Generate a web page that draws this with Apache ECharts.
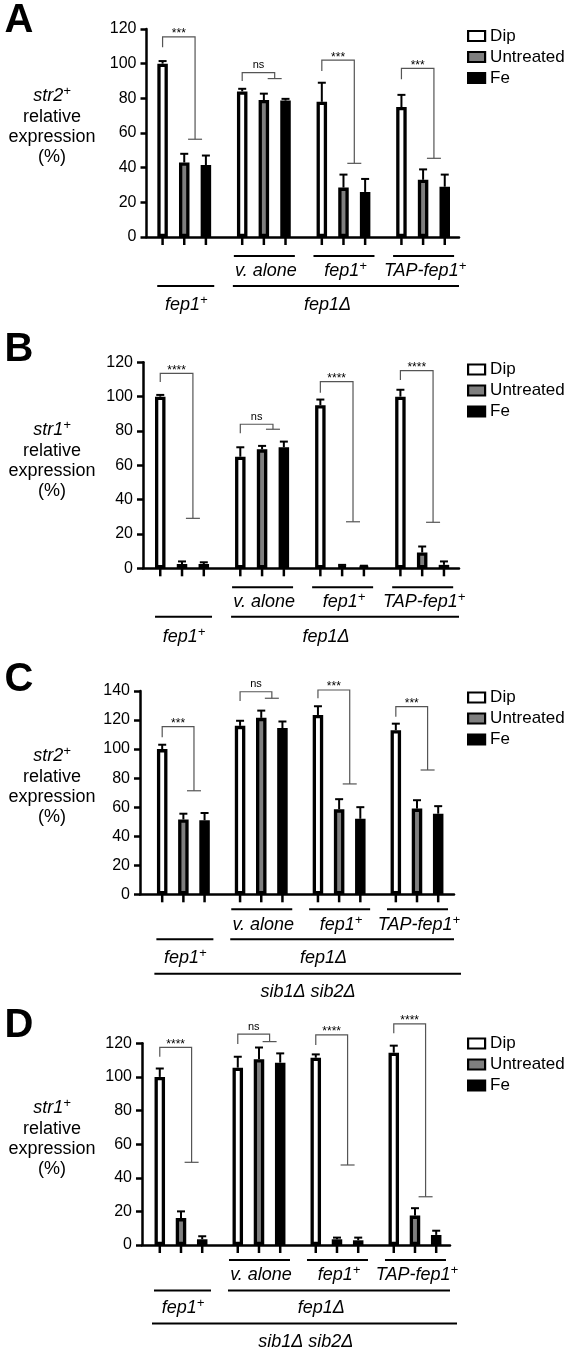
<!DOCTYPE html>
<html>
<head>
<meta charset="utf-8">
<script src="https://cdn.jsdelivr.net/npm/echarts@6/dist/echarts.min.js"></script>
<style>
  html, body { margin: 0; padding: 0; background: #fff; }
  #main { width: 567px; height: 1353px; }
</style>
</head>
<body>
<div id="main"></div>
<script>
// groups: fep1+, then fep1Δ carrying v. alone / fep1+ / TAP-fep1+
var treatments = ['Dip', 'Untreated', 'Fe']
var groupNames = ['fep1⁺', 'v. alone', 'fep1⁺', 'TAP-fep1⁺']
var strainNames = ['fep1⁺', 'fep1Δ']
var backgroundName = 'sib1Δ sib2Δ'

// A : str2+
var dipA = [100, 84, 78, 75]
var dipErrA = [1.5, 1.5, 11, 7]
var untA = [43, 79, 28.5, 33]
var untErrA = [5, 3.7, 7.5, 6]
var feA = [41.5, 78.7, 26, 29]
var feErrA = [5.5, 1, 7.5, 7]
var sigA = ['***', 'ns', '***', '***']
var brTopA = [115.5, 94.8, 102, 97.3]
var brLeftA = [109.5, 90, 95.8, 91]
var brRightA = [56.4, 91.4, 42.5, 45.4]

// B : str1+
var dipB = [100, 65, 95, 100]
var dipErrB = [1, 5.5, 3.3, 4]
var untB = [2.5, 69.3, 1.5, 9.2]
var untErrB = [1.5, 2, 0.5, 3.5]
var feB = [2.5, 70.5, 1, 2]
var feErrB = [1, 3.3, 0.5, 2]
var sigB = ['****', 'ns', '****', '****']
var brTopB = [113.6, 83.9, 108.7, 115.1]
var brLeftB = [108.5, 78.6, 102.3, 109.7]
var brRightB = [29.1, 81, 27.1, 26.8]

// C : str2+ in sib1Δ sib2Δ
var dipC = [100, 116, 123.5, 113]
var dipErrC = [3, 3.5, 6, 4.5]
var untC = [51.5, 121.5, 58.5, 59]
var untErrC = [4, 5, 7, 5.8]
var feC = [51, 114.5, 52, 55.5]
var feErrC = [5, 4.5, 8, 5.2]
var sigC = ['***', 'ns', '***', '***']
var brTopC = [115.4, 139.5, 140.7, 129.2]
var brLeftC = [108.1, 133.1, 135, 122.3]
var brRightC = [71.3, 135, 76, 85.6]

// D : str1+ in sib1Δ sib2Δ
var dipD = [100, 105.5, 111.4, 114.4]
var dipErrD = [5, 6.5, 2, 4.2]
var untD = [16, 110.5, 3.4, 17.5]
var untErrD = [4, 7, 1, 4.4]
var feD = [3.4, 108.5, 2.8, 6]
var feErrD = [1.8, 5.5, 1.6, 2.5]
var sigD = ['****', 'ns', '****', '****']
var brTopD = [117.6, 125.4, 125, 131.5]
var brLeftD = [112, 119.6, 119, 126]
var brRightD = [49.2, 121, 47.6, 28.7]

var FONT = '"Liberation Sans", Arial, Helvetica, sans-serif'
var BAR_STEP = 0.272   // distance between bars inside a group (group = 1)
var fills = ['#ffffff', '#7f7f7f', '#000000']

var panels = [
  { letter: 'A', gene: 'str2⁺', yMax: 120, sib: false,
    vals: [dipA, untA, feA], errs: [dipErrA, untErrA, feErrA],
    sig: sigA, brTop: brTopA, brLeft: brLeftA, brRight: brRightA,
    left: 146.5, right: 108, top: 29, height: 208, xMin: -0.474, xMax: 3.451,
    rows: [19, 34, 49, 68], legendTop: 22.5, nameY: 126, letterY: 21 },
  { letter: 'B', gene: 'str1⁺', yMax: 120, sib: false,
    vals: [dipB, untB, feB], errs: [dipErrB, untErrB, feErrB],
    sig: sigB, brTop: brTopB, brLeft: brLeftB, brRight: brRightB,
    left: 143, right: 108, top: 362.3, height: 206, xMin: -0.4875, xMax: 3.46,
    rows: [19, 33.5, 48.5, 68.5], legendTop: 356, nameY: 460, letterY: 350 },
  { letter: 'C', gene: 'str2⁺', yMax: 140, sib: true,
    vals: [dipC, untC, feC], errs: [dipErrC, untErrC, feErrC],
    sig: sigC, brTop: brTopC, brLeft: brLeftC, brRight: brRightC,
    left: 140, right: 113, top: 691, height: 203.3, xMin: -0.557, xMax: 3.475,
    rows: [15, 30.5, 45, 63.5, 79.5, 98], legendTop: 684, nameY: 786, letterY: 680 },
  { letter: 'D', gene: 'str1⁺', yMax: 120, sib: true,
    vals: [dipD, untD, feD], errs: [dipErrD, untErrD, feErrD],
    sig: sigD, brTop: brTopD, brLeft: brLeftD, brRight: brRightD,
    left: 142, right: 117, top: 1043.3, height: 201.7, xMin: -0.5, xMax: 3.449,
    rows: [15, 30, 45.5, 62.5, 78.5, 96.5], legendTop: 1030, nameY: 1138, letterY: 1026 }
]

// italic label with a raised small "+"
var RICH = {
  i: { fontStyle: 'italic', fontSize: 18, fontFamily: FONT, lineHeight: 22, color: '#000' },
  n: { fontSize: 18, fontFamily: FONT, lineHeight: 20, color: '#000' },
  s: { fontStyle: 'italic', fontSize: 13, fontFamily: FONT, lineHeight: 22, verticalAlign: 'top', color: '#000' }
}
function richLabel(t) {
  return t.split('⁺').map(function (part, j, all) {
    return (part ? '{i|' + part + '}' : '') + (j < all.length - 1 ? '{s|+}' : '')
  }).join('')
}

function line(x1, y1, x2, y2, w, c) {
  return { type: 'line', shape: { x1: x1, y1: y1, x2: x2, y2: y2 },
    style: { stroke: c || '#000', lineWidth: w } }
}
function txt(t, x, y, font, va) {
  return { type: 'text', x: x, y: y,
    style: { text: t, font: font, fill: '#000', align: 'center', verticalAlign: va || 'middle' } }
}
function label(t, x, y) {
  return { type: 'text', x: x, y: y,
    style: { text: richLabel(t), rich: RICH, align: 'center', verticalAlign: 'middle' } }
}

// error bars (upper half only) + x ticks under every bar
function renderErr(params, api) {
  var x = api.value(0), v = api.value(1), e = api.value(2)
  var p0 = api.coord([x, v]), p1 = api.coord([x, v + e]), z = api.coord([x, 0])
  return { type: 'group', children: [
    line(p0[0], p0[1], p1[0], p1[1], 2),
    line(p1[0] - 4, p1[1], p1[0] + 4, p1[1], 2),
    line(z[0], z[1], z[0], z[1] + 8, 2.5)
  ] }
}

function renderBracket(p) {
  return function (params, api) {
    var g = api.value(0)
    var xl = g - BAR_STEP, xr = g + BAR_STEP / 2
    var tl = api.coord([xl, api.value(1)]), bl = api.coord([xl, api.value(2)])
    var tr = api.coord([xr, api.value(1)]), br = api.coord([xr, api.value(3)])
    var s = p.sig[params.dataIndex]
    var isNs = s === 'ns'
    return { type: 'group', children: [
      { type: 'polyline', shape: { points: [bl, tl, tr, br] },
        style: { stroke: '#555', lineWidth: 1.2, fill: null } },
      line(br[0] - 7, br[1], br[0] + 7, br[1], 1.2, '#555'),
      txt(s, (tl[0] + tr[0]) / 2, tl[1] + (isNs ? -2 : 3), (isNs ? '11px ' : '12px ') + FONT, 'bottom')
    ] }
  }
}

function renderStrains(p) {
  return function (params, api) {
    var y0 = api.coord([0, 0])[1]
    var cx = function (v) { return api.coord([v, 0])[0] }
    var xEnd = cx(p.xMax)
    var kids = []
    for (var g = 1; g < 4; g++) {
      kids.push(line(cx(g) - 30, y0 + p.rows[0], cx(g) + 31, y0 + p.rows[0], 2))
      kids.push(label(groupNames[g], cx(g) + 2, y0 + p.rows[1]))
    }
    kids.push(line(cx(0) - 27, y0 + p.rows[2], cx(0) + 30, y0 + p.rows[2], 2))
    kids.push(label(strainNames[0], cx(0) + 2, y0 + p.rows[3]))
    kids.push(line(cx(1) - 31, y0 + p.rows[2], xEnd, y0 + p.rows[2], 2))
    kids.push(label(strainNames[1], cx(1.8), y0 + p.rows[3]))
    if (p.sib) {
      kids.push(line(cx(0) - 29, y0 + p.rows[4], xEnd + 7, y0 + p.rows[4], 2))
      kids.push(label(backgroundName, cx(1.6), y0 + p.rows[5]))
    }
    return { type: 'group', children: kids }
  }
}

var option = {
  animation: false,
  backgroundColor: '#fff',
  textStyle: { fontFamily: FONT },
  grid: [], xAxis: [], yAxis: [], legend: [], series: [], graphic: []
}

panels.forEach(function (p, k) {
  option.grid.push({ left: p.left, right: p.right, top: p.top, height: p.height,
    containLabel: false, outerBoundsMode: 'none' })
  option.xAxis.push({ type: 'value', gridIndex: k, min: p.xMin, max: p.xMax,
    axisLine: { show: true, onZero: false, lineStyle: { color: '#000', width: 2.5 } },
    axisTick: { show: false }, axisLabel: { show: false }, splitLine: { show: false } })
  option.yAxis.push({ type: 'value', gridIndex: k, min: 0, max: p.yMax, interval: 20,
    axisLine: { show: true, onZero: false, lineStyle: { color: '#000', width: 2.5 } },
    axisTick: { show: true, length: 6, lineStyle: { color: '#000', width: 2.5 } },
    axisLabel: { color: '#000', fontSize: 16, fontWeight: 'normal', margin: 10, fontFamily: FONT },
    splitLine: { show: false } })

  var errData = []
  treatments.forEach(function (name, i) {
    var off = (i - 1) * BAR_STEP
    option.series.push({ type: 'bar', name: name, xAxisIndex: k, yAxisIndex: k,
      barWidth: 10.5, barGap: '-100%',
      itemStyle: { color: fills[i], borderColor: '#000', borderWidth: 3.3 },
      data: p.vals[i].map(function (v, g) { return [g + off, v] }) })
    p.vals[i].forEach(function (v, g) { errData.push([g + off, v, p.errs[i][g]]) })
  })

  option.series.push({ type: 'custom', name: 'err' + p.letter, xAxisIndex: k, yAxisIndex: k,
    clip: false, silent: true, z: 5, renderItem: renderErr, data: errData })

  option.series.push({ type: 'custom', name: 'sig' + p.letter, xAxisIndex: k, yAxisIndex: k,
    clip: false, silent: true, z: 5, renderItem: renderBracket(p),
    data: p.brTop.map(function (t, g) { return [g, t, p.brLeft[g], p.brRight[g]] }) })

  option.series.push({ type: 'custom', name: 'strain' + p.letter, xAxisIndex: k, yAxisIndex: k,
    clip: false, silent: true, z: 5, renderItem: renderStrains(p), data: [[0, 0]] })

  option.legend.push({ data: treatments, orient: 'vertical', left: 462, top: p.legendTop,
    icon: 'rect', itemWidth: 17, itemHeight: 10, itemGap: 4, selectedMode: false,
    itemStyle: { borderColor: '#000', borderWidth: 2.2 },
    textStyle: { color: '#000', fontSize: 17, fontFamily: FONT } })

  option.graphic.push({ type: 'text', x: 19, y: p.letterY, silent: true,
    style: { text: p.letter, font: 'bold 40px ' + FONT, fill: '#000',
      align: 'center', verticalAlign: 'middle', textAlign: 'center', textVerticalAlign: 'middle' } })
  option.graphic.push({ type: 'text', x: 52, y: p.nameY, silent: true,
    style: { text: richLabel(p.gene) + '\n{n|relative}\n{n|expression}\n{n|(%)}',
      rich: RICH, align: 'center', verticalAlign: 'middle',
      textAlign: 'center', textVerticalAlign: 'middle' } })
})

var chart = echarts.init(document.getElementById('main'), null, { renderer: 'canvas' })
chart.setOption(option)
</script>
</body>
</html>
